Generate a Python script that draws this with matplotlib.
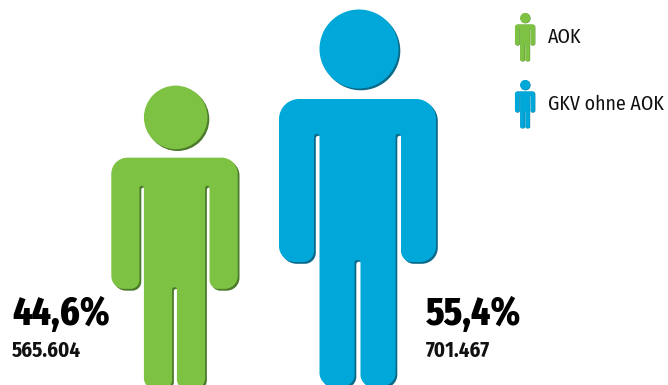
import matplotlib
matplotlib.use('Agg')
import matplotlib.pyplot as plt
from matplotlib.patches import Circle, PathPatch
from matplotlib.path import Path

# Anteile und Versichertenzahlen
names = ['AOK', 'GKV ohne AOK']
shares = [44.6, 55.4]
insured = [565604, 701467]

colors = ['#7DC242', '#00A8DA']
shadows = ['#4C7A2B', '#0A6A8A']

FONT_BIG = ['Fira Sans Extra Condensed', 'DejaVu Sans']
FONT_TEXT = ['Fira Sans Condensed', 'DejaVu Sans']

# Umriss der rechten Hälfte einer Figur: x, y, Eckenradius
HALF_OUTLINE = [
    (78.5, 89, 20), (78.5, 252, 16), (43.5, 252, 11), (43.5, 124, 2.5),
    (38, 124, 2.5), (38, 376, 13), (3, 376, 11), (3, 250, 2.5),
]
HEAD = (1.5, 39, 39.5)
FULL_HEIGHT = 375


def rounded_path(points, cx, top, scale):
    """Geschlossener Pfad mit abgerundeten Ecken."""
    pts = [(cx + x * scale, top + y * scale, r * scale) for x, y, r in points]
    verts, codes = [], []
    n = len(pts)
    k = 0.55
    for i in range(n):
        px, py, _ = pts[i - 1]
        x, y, r = pts[i]
        nx, ny, _ = pts[(i + 1) % n]
        d1 = ((px - x) ** 2 + (py - y) ** 2) ** 0.5
        d2 = ((nx - x) ** 2 + (ny - y) ** 2) ** 0.5
        r1 = min(r, d1 / 2)
        r2 = min(r, d2 / 2)
        a = (x + (px - x) / d1 * r1, y + (py - y) / d1 * r1)
        b = (x + (nx - x) / d2 * r2, y + (ny - y) / d2 * r2)
        c1 = (a[0] + (x - a[0]) * k, a[1] + (y - a[1]) * k)
        c2 = (b[0] + (x - b[0]) * k, b[1] + (y - b[1]) * k)
        verts.append(a)
        codes.append(Path.MOVETO if i == 0 else Path.LINETO)
        verts.extend([c1, c2, b])
        codes.extend([Path.CURVE4] * 3)
    verts.append(verts[0])
    codes.append(Path.CLOSEPOLY)
    return Path(verts, codes)


def draw_person(ax, cx, top, scale, color, shadow, offset):
    points = HALF_OUTLINE + [(-x, y, r) for x, y, r in reversed(HALF_OUTLINE)]
    hx, hy, hr = HEAD
    for dx, col in ((offset, shadow), (0, color)):
        ax.add_patch(PathPatch(rounded_path(points, cx + dx, top + dx, scale),
                               facecolor=col, edgecolor='none'))
        ax.add_patch(Circle((cx + (hx * scale) + dx, top + (hy * scale) + dx),
                            hr * scale, facecolor=col, edgecolor='none'))


fig = plt.figure(figsize=(6.68, 3.85), dpi=100)
ax = fig.add_axes([0, 0, 1, 1])
ax.set_xlim(0, 668)
ax.set_ylim(385, 0)
ax.axis('off')

# Figuren, Größe nach Anteil
max_share = max(shares)
person_pos = [(174.5, 86), (357.5, 10)]
for share, (cx, top), col, sh in zip(shares, person_pos, colors, shadows):
    draw_person(ax, cx, top, share / max_share, col, sh, 1.8)

# Legende
legend_pos = [(525, 13, 37), (525, 80, 104)]
for name, (cx, top, ty), col, sh in zip(names, legend_pos, colors, shadows):
    draw_person(ax, cx, top, 48 / FULL_HEIGHT, col, sh, 0.3)
    ax.text(548, ty, name, fontsize=14.3, family=FONT_TEXT, va='center', ha='left', color='#111111')

# Prozentwerte und Anzahl
label_x = [12, 426]
pct_y = [325, 325]
num_y = [357, 357]
for share, n, x, y1, y2 in zip(shares, insured, label_x, pct_y, num_y):
    ax.text(x, y1, f'{share:.1f}%'.replace('.', ','), fontsize=29, fontweight=800,
            family=FONT_BIG, va='baseline', ha='left', color='black')
    ax.text(x, y2, f'{n:,}'.replace(',', '.'), fontsize=15, fontweight='bold',
            family=FONT_TEXT, va='baseline', ha='left', color='#111111')

fig.savefig('out.png', dpi=100)
